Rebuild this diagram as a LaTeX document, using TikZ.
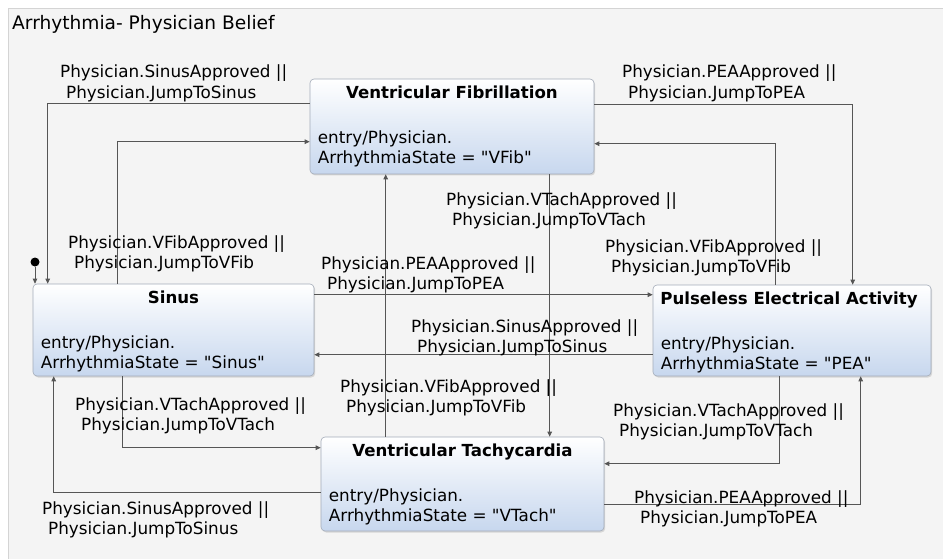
\documentclass[tikz,border=0pt]{standalone}
\usepackage{fontspec}
\setmainfont{DejaVu Sans}[Ligatures=TeXOff]
\usetikzlibrary{arrows.meta,shadows}
\definecolor{framebg}{HTML}{F4F4F4}
\definecolor{frameline}{HTML}{D4D4D4}
\definecolor{wire}{HTML}{555555}
\definecolor{stateline}{HTML}{A4ACB9}
\definecolor{statebottom}{HTML}{C7D7EE}
\newcommand\indentsp{\hspace*{6pt}}
\tikzset{
  statebox/.style={draw=stateline, line width=0.6pt, rounded corners=4pt,
    top color=white, bottom color=statebottom, inner sep=0pt,
    drop shadow={shadow xshift=1.2pt, shadow yshift=-1.5pt, opacity=0.25}},
  statetitle/.style={font=\fontsize{16.6}{20}\selectfont\bfseries, inner sep=0pt, anchor=base},
  % multi-line nodes: the base anchor sits on the last line
  entrytext/.style={font=\fontsize{16.8}{20}\selectfont, align=left, inner sep=0pt, anchor=base west},
  guard/.style={font=\fontsize{16.8}{20.5}\selectfont, align=left, inner sep=0pt, anchor=base west},
  tr/.style={draw=wire, line width=0.7pt, -{Triangle[length=5pt,width=4.5pt]}},
}
\begin{document}
\begin{tikzpicture}[x=1pt,y=-1pt]
\useasboundingbox (0,0) rectangle (943,559);
% frame of the state machine
\fill[white] (0,0) rectangle (943,559);
\fill[framebg] (8,8) rectangle (943,559);
\draw[frameline, line width=0.8pt] (8,559) -- (8,8) -- (943,8);
\node[font=\fontsize{18.6}{22}\selectfont, anchor=base west, inner sep=0pt] (title) at (12,29.5) {Arrhythmia- Physician Belief};

% states
\node[statebox, minimum width=284pt, minimum height=95pt] (vf) at (452,126.5) {};
\node[statebox, minimum width=281pt, minimum height=92pt] (si) at (173.5,330) {};
\node[statebox, minimum width=278pt, minimum height=91pt] (pea) at (792,330.5) {};
\node[statebox, minimum width=283pt, minimum height=94pt] (vt) at (462.5,484) {};

\node[statetitle] (vf-t) at ([yshift=-19.5pt]vf.north) {Ventricular Fibrillation};
\node[entrytext] (vf-e) at ([xshift=8pt,yshift=-84.5pt]vf.north west) {entry/Physician.\\ArrhythmiaState = "VFib"};
\node[statetitle] (si-t) at ([yshift=-19.5pt]si.north) {Sinus};
\node[entrytext] (si-e) at ([xshift=8pt,yshift=-84.5pt]si.north west) {entry/Physician.\\ArrhythmiaState = "Sinus"};
\node[statetitle] (pea-t) at ([yshift=-19.5pt,xshift=-3pt]pea.north) {Pulseless Electrical Activity};
\node[entrytext] (pea-e) at ([xshift=8pt,yshift=-84.5pt]pea.north west) {entry/Physician.\\ArrhythmiaState = "PEA"};
\node[statetitle] (vt-t) at ([yshift=-19.5pt]vt.north) {Ventricular Tachycardia};
\node[entrytext] (vt-e) at ([xshift=8pt,yshift=-84.5pt]vt.north west) {entry/Physician.\\ArrhythmiaState = "VTach"};

% initial pseudo state
\node[circle, fill=black, inner sep=0pt, minimum size=9pt] (init) at (35,262) {};
\draw[tr] (init) -- (init |- si.north);

% transitions
\draw[tr] ([yshift=-25pt]vf.north west) -| ([xshift=15pt]si.north west);
\draw[tr] ([xshift=85pt]si.north west) |- ([yshift=-63pt]vf.north west);
\draw[tr] ([yshift=-26pt]vf.north east) -| ([xshift=200pt]pea.north west);
\draw[tr] ([xshift=123pt]pea.north west) |- ([yshift=-65pt]vf.north east);
\draw[tr] ([xshift=240pt]vf.south west) -- ([xshift=240pt]vf.south west |- vt.north);
\draw[tr] ([xshift=65pt]vt.north west) -- ([xshift=65pt]vt.north west |- vf.south);
\draw[tr] ([yshift=-11pt]si.north east) -- ([yshift=-11pt]si.north east -| pea.west);
\draw[tr] ([yshift=-70pt]pea.north west) -- ([yshift=-70pt]pea.north west -| si.east);
\draw[tr] ([xshift=90pt]si.south west) |- ([yshift=-11pt]vt.north west);
\draw[tr] ([yshift=-56pt]vt.north west) -| ([xshift=21pt]si.south west);
\draw[tr] ([xshift=127pt]pea.south west) |- ([yshift=-27pt]vt.north east);
\draw[tr] ([yshift=-68pt]vt.north east) -| ([xshift=208pt]pea.south west);

% guards (positions give the baseline of the second line)
\node[guard] (g1) at (60,98.5) {Physician.SinusApproved ||\\\indentsp Physician.JumpToSinus};
\node[guard] (g2) at (68,268.5) {Physician.VFibApproved ||\\\indentsp Physician.JumpToVFib};
\node[guard] (g3) at (622,98.5) {Physician.PEAApproved ||\\\indentsp Physician.JumpToPEA};
\node[guard] (g4) at (605,272.5) {Physician.VFibApproved ||\\\indentsp Physician.JumpToVFib};
\node[guard] (g5) at (446,225.5) {Physician.VTachApproved ||\\\indentsp Physician.JumpToVTach};
\node[guard] (g6) at (340,412.5) {Physician.VFibApproved ||\\\indentsp Physician.JumpToVFib};
\node[guard] (g7) at (321,289.5) {Physician.PEAApproved ||\\\indentsp Physician.JumpToPEA};
\node[guard] (g8) at (411,352.5) {Physician.SinusApproved ||\\\indentsp Physician.JumpToSinus};
\node[guard] (g9) at (75,430.5) {Physician.VTachApproved ||\\\indentsp Physician.JumpToVTach};
\node[guard] (g10) at (42,534.5) {Physician.SinusApproved ||\\\indentsp Physician.JumpToSinus};
\node[guard] (g11) at (613,436.5) {Physician.VTachApproved ||\\\indentsp Physician.JumpToVTach};
\node[guard] (g12) at (634,523.5) {Physician.PEAApproved ||\\\indentsp Physician.JumpToPEA};
\end{tikzpicture}
\end{document}
